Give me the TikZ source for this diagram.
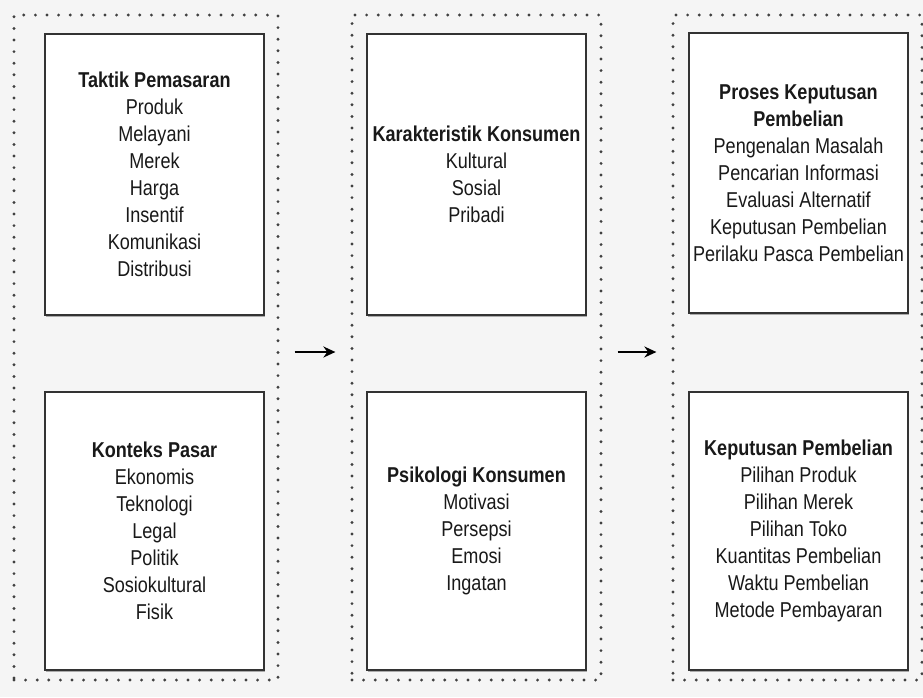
\documentclass[tikz,border=0pt]{standalone}
\usepackage{fontspec}
\setmainfont{Liberation Sans}[FakeStretch=0.84]
\usetikzlibrary{shadows, arrows.meta}

\begin{document}
\begin{tikzpicture}[
    x=1pt, y=-1pt,
    group/.style={draw=black!75, line width=3.2pt, line cap=round, dash pattern=on 0pt off 11.6pt, minimum width=#1, minimum height=665pt, inner sep=0pt},
    box/.style={draw=black!80, line width=1.6pt, fill=white, minimum width=219pt, inner sep=2pt, align=center, text=black!90, font=\fontsize{21.5}{27}\selectfont, drop shadow={shadow xshift=0.8pt, shadow yshift=-2pt, fill=black!40, opacity=0.8}},
    flow/.style={line width=2pt, -{Stealth[length=12pt, width=11pt]}, shorten <=15pt, shorten >=15pt}
]

   % page and background
   \useasboundingbox (0,0) rectangle (923,697);
   \fill[black!4] (0,0) rectangle (923,697);

   % dotted columns
   \node[group=264pt] (colA) at (146,347.5) {};
   \node[group=249pt] (colB) at (476.5,347.5) {};
   \node[group=249pt] (colC) at (797.5,347.5) {};

   % left column
   \node[box, minimum height=281pt] (tactic) at (154.5,174.5) {\textbf{Taktik Pemasaran}\\Produk\\Melayani\\Merek\\Harga\\Insentif\\Komunikasi\\Distribusi};
   \node[box, minimum height=278pt] (market) at (154.5,531) {\textbf{Konteks Pasar}\\Ekonomis\\Teknologi\\Legal\\Politik\\Sosiokultural\\Fisik};

   % middle column
   \node[box, minimum height=281pt] (trait) at (476.5,174.5) {\textbf{Karakteristik Konsumen}\\Kultural\\Sosial\\Pribadi};
   \node[box, minimum height=278pt] (psych) at (476.5,531) {\textbf{Psikologi Konsumen}\\Motivasi\\Persepsi\\Emosi\\Ingatan};

   % right column
   \node[box, minimum height=280pt] (process) at (798.5,173) {\textbf{Proses Keputusan}\\\textbf{Pembelian}\\Pengenalan Masalah\\Pencarian Informasi\\Evaluasi Alternatif\\Keputusan Pembelian\\Perilaku Pasca Pembelian};
   \node[box, minimum height=278pt] (choice) at (798.5,531) {\textbf{Keputusan Pembelian}\\Pilihan Produk\\Pilihan Merek\\Pilihan Toko\\Kuantitas Pembelian\\Waktu Pembelian\\Metode Pembayaran};

   % arrows between columns
   \draw[flow] ([yshift=-4.5pt]colA.east) -- ([yshift=-4.5pt]colB.west);
   \draw[flow] ([yshift=-4.5pt]colB.east) -- ([yshift=-4.5pt]colC.west);
\end{tikzpicture}
\end{document}
